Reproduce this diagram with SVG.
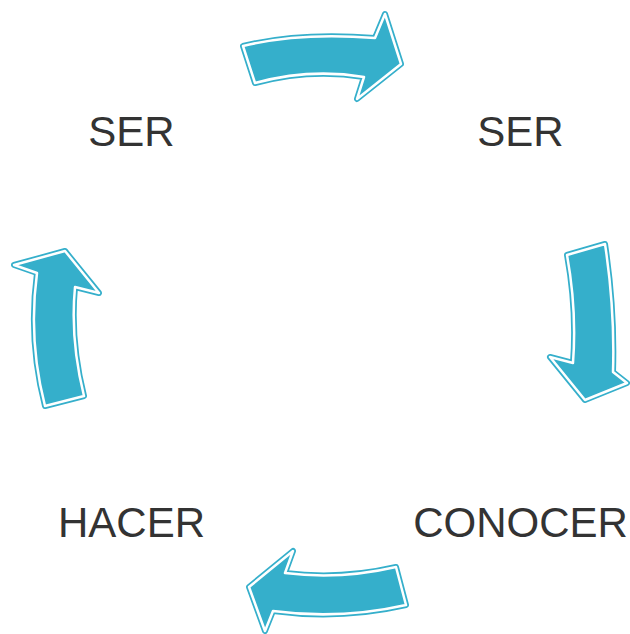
<svg xmlns="http://www.w3.org/2000/svg" width="630" height="634" viewBox="0 0 630 634">
<defs>
<style>
.lbl{font-family:"Liberation Sans",Arial,sans-serif;font-size:42px;fill:#333333;text-anchor:middle}
.ao{fill:none;stroke:#35AFCB;stroke-width:6;stroke-linejoin:round}
.ai{fill:#35AFCB;stroke:#ffffff;stroke-width:2.5;stroke-linejoin:round}
</style>
</defs>
<rect width="630" height="634" fill="#ffffff"/>
<g id="connectors">
<g id="arrow-top">
<path class="ao" d="M243,46 Q300,32 375,38 L385,14 L401,64 L357,99 L364,77 Q310,68 255,83 Z"/>
<path class="ai" d="M243,46 Q300,32 375,38 L385,14 L401,64 L357,99 L364,77 Q310,68 255,83 Z"/>
</g>
<g id="arrow-right">
<path class="ao" d="M567,255 L605,244 Q615,310 613,372 L627,383 L585,400 L550,357 L573,363 Q577,310 567,255 Z"/>
<path class="ai" d="M567,255 L605,244 Q615,310 613,372 L627,383 L585,400 L550,357 L573,363 Q577,310 567,255 Z"/>
</g>
<g id="arrow-bottom">
<path class="ao" d="M396,567 L406,605 Q340,620 273,611 L265,631 L249,587 L293,551 L285,573 Q340,580 396,567 Z"/>
<path class="ai" d="M396,567 L406,605 Q340,620 273,611 L265,631 L249,587 L293,551 L285,573 Q340,580 396,567 Z"/>
</g>
<g id="arrow-left">
<path class="ao" d="M45,406 L84,396 Q70,340 75,287 L99,293 L65,251 L14,265 L37,273 Q28,340 45,406 Z"/>
<path class="ai" d="M45,406 L84,396 Q70,340 75,287 L99,293 L65,251 L14,265 L37,273 Q28,340 45,406 Z"/>
</g>
</g>
<g id="node-ser-left"><text class="lbl" x="131.5" y="146">SER</text></g>
<g id="node-ser-right"><text class="lbl" x="520.5" y="146">SER</text></g>
<g id="node-conocer"><text class="lbl" x="520.5" y="537">CONOCER</text></g>
<g id="node-hacer"><text class="lbl" x="131.5" y="537">HACER</text></g>
</svg>
